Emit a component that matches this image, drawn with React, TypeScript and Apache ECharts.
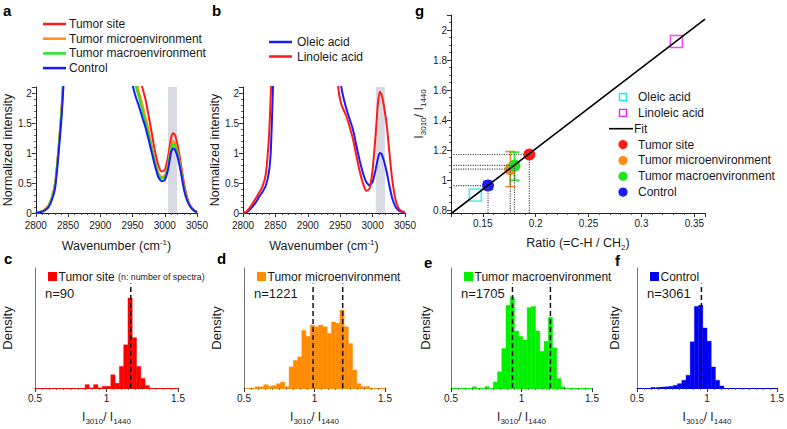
import React, { useEffect, useRef } from 'react';
import * as echarts from 'echarts';

const FONT = '"Liberation Sans", Arial, Helvetica, sans-serif';
const TXT = '#1a1a1a';

// ---------------- panel a : mean spectra ----------------
const WN_A = [2800, 2810, 2815, 2820, 2825, 2830, 2835, 2840, 2843, 2846, 2900, 2948, 2952, 2956, 2960, 2965, 2970, 2975, 2980, 2985, 2990, 2995, 3000, 3005, 3010, 3013, 3016, 3020, 3025, 3030, 3035, 3040, 3045, 3050];
const A_SITE = [0, 0.03, 0.07, 0.13, 0.26, 0.5, 1.05, 1.75, 2.3, 2.95, 6, 2.8, 2.6, 2.45, 2.3, 2.1, 1.9, 1.62, 1.32, 1.02, 0.8, 0.69, 0.72, 0.93, 1.26, 1.33, 1.3, 1.12, 0.82, 0.48, 0.25, 0.12, 0.05, 0.02];
const A_MICRO = [0, 0.03, 0.07, 0.13, 0.27, 0.5, 1.05, 1.75, 2.3, 2.95, 6, 2.55, 2.35, 2.2, 2.02, 1.82, 1.6, 1.38, 1.12, 0.88, 0.68, 0.6, 0.63, 0.82, 1.13, 1.2, 1.17, 1.02, 0.75, 0.43, 0.22, 0.11, 0.04, 0.01];
const A_MACRO = [0, 0.03, 0.06, 0.12, 0.25, 0.47, 1.02, 1.7, 2.25, 2.9, 6, 2.45, 2.25, 2.08, 1.92, 1.72, 1.52, 1.3, 1.07, 0.84, 0.65, 0.57, 0.6, 0.78, 1.08, 1.15, 1.12, 0.98, 0.72, 0.41, 0.21, 0.1, 0.04, 0.01];
const A_CTRL = [0, 0.02, 0.05, 0.1, 0.22, 0.42, 0.95, 1.6, 2.15, 2.8, 6, 2.25, 2.05, 1.9, 1.78, 1.6, 1.43, 1.22, 1.0, 0.78, 0.6, 0.53, 0.55, 0.72, 1.02, 1.08, 1.05, 0.93, 0.68, 0.38, 0.2, 0.1, 0.04, 0.01];
const A_SITE_SD = [0, 0.01, 0.01, 0.02, 0.03, 0.04, 0.05, 0.06, 0.06, 0.06, 0.1, 0.09, 0.09, 0.09, 0.08, 0.08, 0.08, 0.07, 0.07, 0.07, 0.07, 0.07, 0.07, 0.07, 0.08, 0.08, 0.08, 0.07, 0.06, 0.05, 0.04, 0.03, 0.02, 0.01];
const A_CTRL_SD = [0, 0.01, 0.01, 0.02, 0.03, 0.04, 0.05, 0.05, 0.05, 0.05, 0.1, 0.08, 0.08, 0.08, 0.07, 0.07, 0.07, 0.06, 0.06, 0.06, 0.06, 0.06, 0.06, 0.06, 0.06, 0.06, 0.06, 0.06, 0.05, 0.04, 0.03, 0.02, 0.02, 0.01];
const A_NAMES = ['Tumor site', 'Tumor microenvironment', 'Tumor macroenvironment', 'Control'];
const BAND_RANGE = [3005, 3019];

// ---------------- panel b : pure fatty acids ----------------
const WN_B = [2800, 2805, 2810, 2815, 2820, 2825, 2830, 2835, 2840, 2843, 2846, 2849, 2900, 2944, 2948, 2952, 2956, 2960, 2965, 2970, 2975, 2980, 2985, 2990, 2995, 3000, 3005, 3008, 3011, 3014, 3018, 3022, 3026, 3030, 3035, 3040, 3045, 3050];
const B_OLEIC = [0, 0.01, 0.05, 0.11, 0.18, 0.27, 0.35, 0.45, 0.68, 1.05, 2.0, 3.0, 6, 3.0, 2.5, 2.08, 1.88, 1.72, 1.55, 1.38, 1.12, 0.88, 0.67, 0.52, 0.46, 0.52, 0.74, 0.9, 1.0, 0.98, 0.85, 0.67, 0.45, 0.26, 0.11, 0.04, 0.02, 0.01];
const B_LINOLEIC = [0, 0.02, 0.08, 0.16, 0.25, 0.34, 0.44, 0.64, 1.25, 2.0, 2.9, 4, 6, 2.4, 2.0, 1.8, 1.7, 1.6, 1.42, 1.22, 0.95, 0.7, 0.5, 0.37, 0.4, 0.72, 1.35, 1.8, 2.02, 1.97, 1.75, 1.45, 1.0, 0.58, 0.24, 0.08, 0.03, 0.01];
const B_NAMES = ['Oleic acid', 'Linoleic acid'];

// ---------------- panels c-f : histograms ----------------
const BIN_W = 0.03;
const C_BINS = [0.85, 0.88, 0.91, 0.94, 0.97, 1.0, 1.03, 1.06, 1.09, 1.12, 1.15, 1.18, 1.21, 1.24, 1.27];
const C_DENS = [0.028, 0, 0.028, 0, 0.014, 0.014, 0.11, 0.04, 0.18, 0.36, 0.75, 0.42, 0.18, 0.08, 0.02];
const C_MARKS = [1.17];
const D_BINS = [0.58, 0.61, 0.64, 0.67, 0.7, 0.73, 0.76, 0.79, 0.82, 0.85, 0.88, 0.91, 0.94, 0.97, 1.0, 1.03, 1.06, 1.09, 1.12, 1.15, 1.18, 1.21, 1.24, 1.27, 1.3, 1.33, 1.36];
const D_DENS = [0.01, 0.01, 0.028, 0.015, 0.02, 0.036, 0.05, 0.01, 0.176, 0.23, 0.26, 0.48, 0.43, 0.525, 0.51, 0.525, 0.51, 0.455, 0.55, 0.54, 0.65, 0.51, 0.37, 0.15, 0.036, 0.01, 0.014];
const D_MARKS = [0.99, 1.2];
const E_BINS = [0.65, 0.74, 0.8, 0.83, 0.86, 0.89, 0.92, 0.95, 0.98, 1.01, 1.04, 1.07, 1.1, 1.13, 1.16, 1.19, 1.22, 1.25, 1.28];
const E_DENS = [0.01, 0.012, 0.05, 0.135, 0.33, 0.69, 0.76, 0.475, 0.43, 0.4, 0.67, 0.68, 0.475, 0.305, 0.39, 0.59, 0.335, 0.08, 0.01];
const E_MARKS = [0.936, 1.205];
const F_BINS = [0.6, 0.64, 0.67, 0.7, 0.73, 0.76, 0.79, 0.82, 0.85, 0.88, 0.91, 0.94, 0.97, 1.0, 1.03, 1.06, 1.09];
const F_DENS = [0.005, 0.006, 0.008, 0.01, 0.014, 0.022, 0.036, 0.064, 0.106, 0.385, 0.68, 0.69, 0.5, 0.39, 0.175, 0.064, 0.017];
const F_MARKS = [0.96];
const DASH_TOP = 0.87;
const HIST_LABELS = ['Tumor site', 'Tumor microenvironment', 'Tumor macroenvironment', 'Control'];
const HIST_N = ['n=90', 'n=1221', 'n=1705', 'n=3061'];

// ---------------- panel g : ratio vs ratio ----------------
const OLEIC_PT = [0.143, 0.9];
const LINOLEIC_PT = [0.333, 1.923];
const FIT_X = [0.12, 0.36];
const FIT_Y = [0.775, 2.073];
const G_NAMES = ['Tumor site', 'Tumor microenvironment', 'Tumor macroenvironment', 'Control'];
const G_X = [0.194, 0.176, 0.18, 0.155];
const G_Y = [1.17, 1.072, 1.097, 0.963];
const G_LOW = [1.16, 0.956, 0.998, 0.938];
const G_HIGH = [1.18, 1.19, 1.186, 0.99];
const G_XMIN = 0.12;
const G_YMIN = 0.78;

const COLORS = ['#ff1a1a', '#ff8c1a', '#1ee61e', '#1a1aff'];
const HIST_COLORS = ['#ff0000', '#ff8c00', '#00f000', '#0000f0'];
const CYAN = '#1ee6f0';
const MAGENTA = '#f01ef0';

const BOX = {
  a: { left: 35, top: 87, width: 162, height: 126 },
  b: { left: 243, top: 87, width: 162, height: 126 },
  g: { left: 451, top: 15, width: 254, height: 198 },
  c: { left: 35, top: 268, width: 143, height: 120 },
  d: { left: 244, top: 268, width: 141, height: 120 },
  e: { left: 451, top: 268, width: 141, height: 120 },
  f: { left: 637, top: 268, width: 142, height: 120 },
};

const richStyles = (size: number) => ({
  n: { fontSize: size, fontFamily: FONT, color: TXT, lineHeight: 16 },
  s: { fontSize: Math.round(size * 0.66), fontFamily: FONT, color: TXT, lineHeight: 8, verticalAlign: 'bottom' },
  p: { fontSize: Math.round(size * 0.66), fontFamily: FONT, color: TXT, lineHeight: 8, verticalAlign: 'top' },
});
const WN_NAME = '{n|Wavenumber (cm}{p|-1}{n|)}';
const RATIO_NAME = '{n|I}{s|3010}{n|/ I}{s|1440}';
const CH_NAME = '{n|Ratio (=C-H / CH}{s|2}{n|)}';

const plain = (v: number) => String(+v.toFixed(3));

const axisCommon = (lineColor = '#222') => ({
  axisLine: { show: true, onZero: false, lineStyle: { color: lineColor, width: 1 } },
  axisTick: { show: true, length: 4, lineStyle: { color: '#333', width: 1 } },
  minorTick: { show: true, length: 2, lineStyle: { color: '#333', width: 0.8 } },
  axisLabel: { fontSize: 10, color: TXT, fontFamily: FONT, margin: 4, formatter: plain },
  splitLine: { show: false },
  minorSplitLine: { show: false },
});

function buildOption() {
  const grids = ['a', 'b', 'g', 'c', 'd', 'e', 'f'].map((k) => ({ ...(BOX as any)[k] }));

  const specX = (gi: number) => ({
    type: 'value', gridIndex: gi, min: 2800, max: 3050, interval: 50,
    ...axisCommon(),
    axisLabel: { fontSize: 10, color: TXT, fontFamily: FONT, margin: 7, formatter: plain },
    minorTick: { show: true, splitNumber: 5, length: 2, lineStyle: { color: '#333', width: 0.8 } },
    name: WN_NAME, nameLocation: 'middle', nameGap: 25,
    nameTextStyle: { rich: richStyles(12.5) },
  });
  const specY = (gi: number) => ({
    type: 'value', gridIndex: gi, min: 0, max: 2.1, interval: 0.5,
    ...axisCommon(),
    axisLabel: { fontSize: 10, color: TXT, fontFamily: FONT, margin: 4, formatter: (v: number) => (v > 2.05 ? '' : plain(v)) },
    minorTick: { show: true, splitNumber: 5, length: 2, lineStyle: { color: '#333', width: 0.8 } },
    name: 'Normalized intensity', nameLocation: 'middle', nameGap: 21,
    nameTextStyle: { fontSize: 12.5, fontFamily: FONT, color: TXT },
  });
  const histX = (gi: number, color: string) => ({
    type: 'value', gridIndex: gi, min: 0.5, max: 1.5, interval: 0.5,
    ...axisCommon(color),
    axisLabel: { fontSize: 10, color: TXT, fontFamily: FONT, margin: 5, formatter: plain },
    minorTick: { show: true, splitNumber: 10, length: 2, lineStyle: { color: '#555', width: 0.8 } },
    name: RATIO_NAME, nameLocation: 'middle', nameGap: 21,
    nameTextStyle: { rich: richStyles(12) },
  });
  const histY = (gi: number, gap: number) => ({
    type: 'value', gridIndex: gi, min: 0, max: 1,
    axisLine: { show: true, onZero: false, lineStyle: { color: '#777', width: 1 } },
    axisTick: { show: false }, axisLabel: { show: false }, splitLine: { show: false },
    name: 'Density', nameLocation: 'middle', nameGap: gap,
    nameTextStyle: { fontSize: 13, fontFamily: FONT, color: TXT },
  });

  const xAxis: any[] = [
    specX(0),
    specX(1),
    {
      type: 'value', gridIndex: 2, min: G_XMIN, max: 0.36, splitNumber: 5,
      ...axisCommon(),
      axisLabel: {
        fontSize: 10, color: TXT, fontFamily: FONT, margin: 5,
        formatter: (v: number) => (Math.abs(v * 20 - Math.round(v * 20)) < 1e-6 ? String(+v.toFixed(2)) : ''),
      },
      minorTick: { show: true, splitNumber: 5, length: 2, lineStyle: { color: '#333', width: 0.8 } },
      name: CH_NAME, nameLocation: 'middle', nameGap: 22,
      nameTextStyle: { rich: richStyles(12.5) },
    },
    histX(3, HIST_COLORS[0]),
    histX(4, HIST_COLORS[1]),
    histX(5, HIST_COLORS[2]),
    histX(6, HIST_COLORS[3]),
  ];
  const yAxis: any[] = [
    specY(0),
    specY(1),
    {
      type: 'value', gridIndex: 2, min: G_YMIN, max: 2.1, splitNumber: 6,
      ...axisCommon(),
      axisLabel: {
        fontSize: 10, color: TXT, fontFamily: FONT, margin: 4,
        formatter: (v: number) => (Math.abs(v * 5 - Math.round(v * 5)) < 1e-6 ? String(+v.toFixed(1)) : ''),
      },
      minorTick: { show: true, splitNumber: 4, length: 2, lineStyle: { color: '#333', width: 0.8 } },
      name: RATIO_NAME, nameLocation: 'middle', nameGap: 24,
      nameTextStyle: { rich: richStyles(12.5) },
    },
    histY(3, 21),
    histY(4, 21),
    histY(5, 19),
    histY(6, 16),
  ];

  const series: any[] = [];

  // ---- panel a: std bands
  const bandPair = (key: string, vals: number[], sd: number[], color: string, withArea: boolean) => {
    const lower: any = {
      type: 'line', xAxisIndex: 0, yAxisIndex: 0, stack: key, showSymbol: false, silent: true,
      smooth: 0.2, lineStyle: { opacity: 0 },
      data: WN_A.map((w, i) => [w, +(vals[i] - sd[i]).toFixed(3)]),
    };
    if (withArea) {
      lower.markArea = {
        silent: true,
        itemStyle: { color: '#d9d9e4' },
        data: [[{ xAxis: BAND_RANGE[0] }, { xAxis: BAND_RANGE[1] }]],
      };
    }
    const upper = {
      type: 'line', xAxisIndex: 0, yAxisIndex: 0, stack: key, showSymbol: false, silent: true,
      smooth: 0.2, lineStyle: { opacity: 0 }, areaStyle: { color, opacity: 1 },
      data: WN_A.map((w, i) => [w, +(2 * sd[i]).toFixed(3)]),
    };
    series.push(lower, upper);
  };
  bandPair('bSite', A_SITE, A_SITE_SD, 'rgba(255,120,140,0.28)', true);
  bandPair('bMacro', A_MACRO, A_CTRL_SD, 'rgba(110,225,140,0.25)', false);
  bandPair('bCtrl', A_CTRL, A_CTRL_SD, 'rgba(120,170,255,0.25)', false);

  [A_SITE, A_MICRO, A_MACRO, A_CTRL].forEach((vals, k) => {
    series.push({
      type: 'line', name: A_NAMES[k], xAxisIndex: 0, yAxisIndex: 0, showSymbol: false, smooth: 0.2,
      lineStyle: { color: COLORS[k], width: 2 }, itemStyle: { color: COLORS[k] },
      data: WN_A.map((w, i) => [w, vals[i]]),
    });
  });

  // ---- panel b
  series.push({
    type: 'line', name: B_NAMES[0], xAxisIndex: 1, yAxisIndex: 1, showSymbol: false, smooth: 0.2,
    lineStyle: { color: COLORS[3], width: 2 }, itemStyle: { color: COLORS[3] },
    data: WN_B.map((w, i) => [w, B_OLEIC[i]]),
    markArea: { silent: true, itemStyle: { color: '#d9d9e4' }, data: [[{ xAxis: BAND_RANGE[0] }, { xAxis: BAND_RANGE[1] }]] },
    z: 3,
  });
  series.push({
    type: 'line', name: B_NAMES[1], xAxisIndex: 1, yAxisIndex: 1, showSymbol: false, smooth: 0.2,
    lineStyle: { color: COLORS[0], width: 2 }, itemStyle: { color: COLORS[0] },
    data: WN_B.map((w, i) => [w, B_LINOLEIC[i]]),
    z: 4,
  });

  // ---- panel g: guide lines
  G_X.forEach((x, i) => {
    const y = G_Y[i];
    series.push({
      type: 'line', xAxisIndex: 2, yAxisIndex: 2, showSymbol: false, silent: true,
      lineStyle: { color: '#555', width: 1.2, type: 'dotted' },
      data: [[G_XMIN, y], [x, y]],
    });
    series.push({
      type: 'line', xAxisIndex: 2, yAxisIndex: 2, showSymbol: false, silent: true,
      lineStyle: { color: '#555', width: 1.2, type: 'dotted' },
      data: [[x, y], [x, G_YMIN]],
    });
  });
  series.push({
    type: 'line', name: 'Fit', xAxisIndex: 2, yAxisIndex: 2, showSymbol: false, silent: true,
    lineStyle: { color: '#000', width: 1.6 },
    data: FIT_X.map((x, i) => [x, FIT_Y[i]]),
  });
  series.push({
    type: 'scatter', name: 'Oleic acid', xAxisIndex: 2, yAxisIndex: 2, symbol: 'rect', symbolSize: 12,
    itemStyle: { color: 'rgba(255,255,255,0)', borderColor: CYAN, borderWidth: 1.6 },
    data: [OLEIC_PT],
  });
  series.push({
    type: 'scatter', name: 'Linoleic acid', xAxisIndex: 2, yAxisIndex: 2, symbol: 'rect', symbolSize: 12,
    itemStyle: { color: 'rgba(255,255,255,0)', borderColor: MAGENTA, borderWidth: 1.6 },
    data: [LINOLEIC_PT],
  });
  const drawOrder = [3, 1, 2, 0];
  drawOrder.forEach((k) => {
    series.push({
      type: 'custom', xAxisIndex: 2, yAxisIndex: 2, silent: true,
      data: [[G_X[k], G_LOW[k], G_HIGH[k]]],
      encode: { x: 0, y: [1, 2] },
      renderItem: (params: any, api: any) => {
        const x = api.value(0);
        const lo = api.coord([x, api.value(1)]);
        const hi = api.coord([x, api.value(2)]);
        const hw = 5;
        const st = { stroke: COLORS[k], lineWidth: 1.6 };
        return {
          type: 'group',
          children: [
            { type: 'line', shape: { x1: lo[0], y1: lo[1], x2: hi[0], y2: hi[1] }, style: st },
            { type: 'line', shape: { x1: lo[0] - hw, y1: lo[1], x2: lo[0] + hw, y2: lo[1] }, style: st },
            { type: 'line', shape: { x1: hi[0] - hw, y1: hi[1], x2: hi[0] + hw, y2: hi[1] }, style: st },
          ],
        };
      },
    });
    series.push({
      type: 'scatter', name: G_NAMES[k], xAxisIndex: 2, yAxisIndex: 2, symbol: 'circle', symbolSize: 12,
      itemStyle: { color: COLORS[k], opacity: 1 },
      data: [[G_X[k], G_Y[k]]],
    });
  });

  // ---- histograms
  const hists = [
    [C_BINS, C_DENS, C_MARKS],
    [D_BINS, D_DENS, D_MARKS],
    [E_BINS, E_DENS, E_MARKS],
    [F_BINS, F_DENS, F_MARKS],
  ];
  hists.forEach(([bins, dens, marks], k) => {
    const idx = 3 + k;
    const color = HIST_COLORS[k];
    series.push({
      type: 'custom', xAxisIndex: idx, yAxisIndex: idx, silent: true,
      data: (bins as number[]).map((b, i) => [b, +(b + BIN_W).toFixed(3), (dens as number[])[i]]),
      encode: { x: [0, 1], y: 2 },
      renderItem: (params: any, api: any) => {
        const p0 = api.coord([api.value(0), api.value(2)]);
        const p1 = api.coord([api.value(1), 0]);
        return {
          type: 'rect',
          shape: { x: p0[0], y: p0[1], width: p1[0] - p0[0], height: p1[1] - p0[1] },
          style: { fill: color, stroke: color, lineWidth: 0.4 },
        };
      },
    });
    (marks as number[]).forEach((m) => {
      series.push({
        type: 'line', xAxisIndex: idx, yAxisIndex: idx, showSymbol: false, silent: true, z: 5,
        lineStyle: { color: '#111', width: 1.5, type: [5, 3] },
        data: [[m, 0], [m, DASH_TOP]],
      });
    });
  });

  // ---- graphics: panel letters and legends
  const g: any[] = [];
  const letter = (t: string, x: number, y: number) =>
    g.push({ type: 'text', style: { text: t, x, y, fill: '#000', font: `bold 15px ${FONT}`, textAlign: 'left', textVerticalAlign: 'middle', align: 'left', verticalAlign: 'middle' } });
  letter('a', 3, 10);
  letter('b', 212, 10);
  letter('g', 415, 10);
  letter('c', 4, 258);
  letter('d', 217, 258);
  letter('e', 424, 262);
  letter('f', 615, 260);

  const label = (t: string, x: number, y: number, size = 12) =>
    g.push({ type: 'text', style: { text: t, x, y, fill: TXT, font: `${size}px ${FONT}`, textAlign: 'left', textVerticalAlign: 'middle', align: 'left', verticalAlign: 'middle' } });
  const legLine = (x1: number, x2: number, y: number, color: string, w = 2.5) =>
    g.push({ type: 'line', shape: { x1, y1: y, x2, y2: y }, style: { stroke: color, lineWidth: w } });

  // legend a
  A_NAMES.forEach((n, i) => {
    const y = 24 + i * 14.7;
    legLine(43, 66, y, COLORS[i]);
    label(n, 69, y);
  });
  // legend b
  B_NAMES.forEach((n, i) => {
    const y = 42 + i * 14.5;
    legLine(269, 292, y, i === 0 ? COLORS[3] : COLORS[0]);
    label(n, 297, y);
  });
  // legend g
  const gy = (i: number) => 97 + i * 15.85;
  g.push({ type: 'rect', shape: { x: 619.5, y: gy(0) - 3.5, width: 7, height: 7 }, style: { fill: 'none', stroke: CYAN, lineWidth: 1.4 } });
  label('Oleic acid', 638, gy(0));
  g.push({ type: 'rect', shape: { x: 619.5, y: gy(1) - 3.5, width: 7, height: 7 }, style: { fill: 'none', stroke: MAGENTA, lineWidth: 1.4 } });
  label('Linoleic acid', 638, gy(1));
  legLine(609, 633, gy(2), '#000', 1.6);
  label('Fit', 634, gy(2));
  G_NAMES.forEach((n, i) => {
    g.push({ type: 'circle', shape: { cx: 623, cy: gy(3 + i), r: 4.6 }, style: { fill: COLORS[i] } });
    label(n, 638, gy(3 + i));
  });

  // histogram legends
  const hx = [BOX.c.left, BOX.d.left, BOX.e.left, BOX.f.left];
  HIST_LABELS.forEach((n, k) => {
    const x0 = hx[k] + 13;
    g.push({ type: 'rect', shape: { x: x0, y: 272, width: 9, height: 9 }, style: { fill: HIST_COLORS[k] } });
    if (k === 0) {
      g.push({
        type: 'text',
        style: {
          text: '{a|Tumor site} {b|(n: number of spectra)}', x: x0 + 10.5, y: 277,
          textAlign: 'left', textVerticalAlign: 'middle', align: 'left', verticalAlign: 'middle',
          rich: {
            a: { fontSize: 12, fontFamily: FONT, fill: TXT, color: TXT },
            b: { fontSize: 8.8, fontFamily: FONT, fill: TXT, color: TXT },
          },
        },
      });
    } else {
      label(n, x0 + 10.5, 277, 12);
    }
    label(HIST_N[k], hx[k] + 10, 293, 13);
  });

  return {
    animation: false,
    backgroundColor: '#fff',
    textStyle: { fontFamily: FONT },
    grid: grids,
    xAxis,
    yAxis,
    series,
    graphic: { elements: g },
  };
}

export default function App() {
  const ref = useRef<HTMLDivElement>(null);
  useEffect(() => {
    if (!ref.current) return;
    const chart = echarts.init(ref.current, null, { renderer: 'svg' });
    chart.setOption(buildOption() as any);
    return () => chart.dispose();
  }, []);
  return (
    <div
      ref={ref}
      style={{ position: 'absolute', left: 0, top: 0, width: 787, height: 429, background: '#fff' }}
    />
  );
}
